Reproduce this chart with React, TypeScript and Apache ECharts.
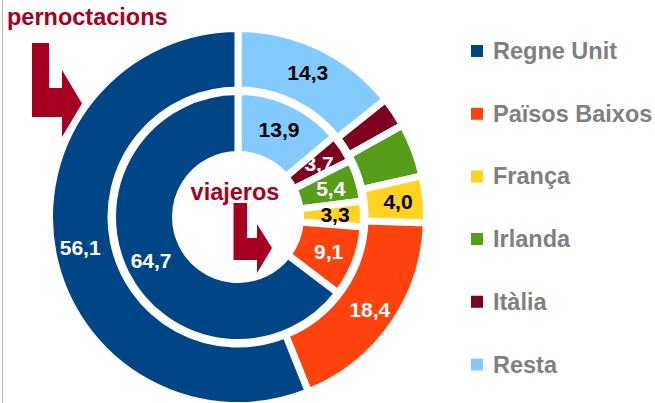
import React, { useEffect, useRef } from "react";
import * as echarts from "echarts";

// Clockwise from 12 o'clock
const categories = ["Resta", "Itàlia", "Irlanda", "França", "Països Baixos", "Regne Unit"];
const legendOrder = ["Regne Unit", "Països Baixos", "França", "Irlanda", "Itàlia", "Resta"];
const pernoctacions = [14.3, 2.6, 4.6, 4.0, 18.4, 56.1];
const viajeros = [13.9, 3.7, 5.4, 3.3, 9.1, 64.7];
const outerLabelShown = [true, false, false, true, true, true];
const colors = ["#83caff", "#7e0021", "#579d1c", "#ffd320", "#ff420e", "#004586"];
const labelColors = ["#000000", "#ffffff", "#ffffff", "#000000", "#ffffff", "#ffffff"];
const titleOuter = "pernoctacions";
const titleInner = "viajeros";

const FONT = "'Liberation Sans', Arial, sans-serif";
const RED = "#a50021";

const fmt = (v: number) => v.toFixed(1).replace(".", ",");

export default function App() {
  const ref = useRef<HTMLDivElement>(null);
  useEffect(() => {
    document.body.style.margin = "0";
    const chart = echarts.init(ref.current!, null, { renderer: "svg" });
    const mk = (vals: number[], shown?: boolean[]) =>
      vals.map((v, i) => ({
        name: categories[i],
        value: v,
        itemStyle: { color: colors[i] },
        label: { show: shown ? shown[i] : true, color: labelColors[i] },
      }));
    const common = {
      type: "pie",
      center: [238, 217],
      startAngle: 90,
      clockwise: true,
      avoidLabelOverlap: false,
      itemStyle: { borderColor: "#ffffff", borderWidth: 7 },
      label: {
        position: "inside",
        fontFamily: FONT,
        fontWeight: "bold",
        fontSize: 21,
        formatter: (p: any) => fmt(p.value),
      },
      labelLine: { show: false },
      emphasis: { disabled: true },
      silent: true,
    };
    chart.setOption({
      animation: false,
      legend: {
        orient: "vertical",
        left: 464,
        top: 34,
        data: legendOrder,
        icon: "rect",
        itemWidth: 14,
        itemHeight: 14,
        itemGap: 38.7,
        selectedMode: false,
        textStyle: {
          color: "#808080",
          fontFamily: FONT,
          fontWeight: "bold",
          fontSize: 23.5,
          padding: [0, 0, 0, 4],
        },
      },
      graphic: [
        {
          type: "line",
          shape: { x1: 2.5, y1: 0, x2: 2.5, y2: 403 },
          style: { stroke: "#b3b3b3", lineWidth: 1 },
        },
        {
          type: "polygon",
          shape: {
            points: [
              [32, 43], [49, 43], [49, 88], [62, 88], [62, 70], [82, 103.5],
              [62, 137], [62, 117], [32, 117],
            ],
          },
          style: { fill: RED },
          z: 10,
        },
        {
          type: "polygon",
          shape: {
            points: [
              [233.5, 203], [247, 203], [247, 238], [257, 238], [257, 224], [272, 248],
              [257, 273], [257, 260], [233.5, 260],
            ],
          },
          style: { fill: RED },
          z: 10,
        },
        {
          type: "text",
          style: {
            text: titleOuter,
            x: 7,
            y: 17,
            fill: RED,
            font: `bold 23.5px ${FONT}`,
            textAlign: "left",
            textVerticalAlign: "middle",
          },
          z: 10,
        },
        {
          type: "text",
          style: {
            text: titleInner,
            x: 235,
            y: 192,
            fill: RED,
            font: `bold 23.5px ${FONT}`,
            textAlign: "center",
            textVerticalAlign: "middle",
          },
          z: 10,
        },
      ],
      series: [
        { ...common, name: "pernoctacions", radius: [127, 188.5], data: mk(pernoctacions, outerLabelShown) },
        { ...common, name: "viajeros", radius: [62.5, 125.5], data: mk(viajeros) },
      ],
    });
    return () => chart.dispose();
  }, []);
  return <div ref={ref} style={{ width: 655, height: 403 }} />;
}
